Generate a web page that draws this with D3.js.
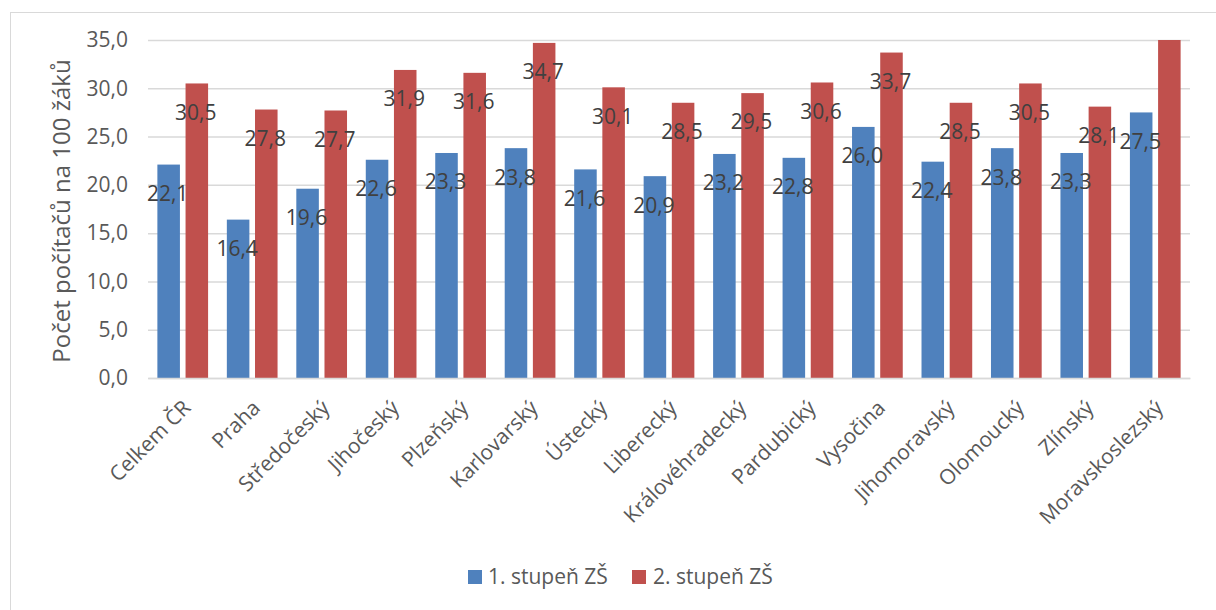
<!DOCTYPE html>
<html><head><meta charset="utf-8">
<script src="https://cdn.jsdelivr.net/npm/d3@7"></script>
<style>body{margin:0;background:#fff;}svg{display:block;}</style>
</head><body>
<script>
const categories = ["Celkem ČR","Praha","Středočeský","Jihočeský","Plzeňský","Karlovarský","Ústecký","Liberecký","Královéhradecký","Pardubický","Vysočina","Jihomoravský","Olomoucký","Zlínský","Moravskoslezský"];
const series1 = [22.1,16.4,19.6,22.6,23.3,23.8,21.6,20.9,23.2,22.8,26.0,22.4,23.8,23.3,27.5];
const series2 = [30.5,27.8,27.7,31.9,31.6,34.7,30.1,28.5,29.5,30.6,33.7,28.5,30.5,28.1,36.0];
const seriesNames = ["1. stupeň ZŠ","2. stupeň ZŠ"];
const yTicks = [0,5,10,15,20,25,30,35];
const colors = ["#4f81bd","#c0504d"];

const W=1216,H=610;
const m={left:148,right:1190,top:40,bottom:378};
const font="'Open Sans', sans-serif";
const txt="#595959";
const svg=d3.select("body").append("svg").attr("width",W).attr("height",H);
svg.append("rect").attr("x",10.5).attr("y",12.5).attr("width",W).attr("height",H).attr("fill","none").attr("stroke","#d9d9d9");

const x=d3.scaleBand().domain(categories).range([m.left,m.right]).paddingInner(0.27).paddingOuter(0.135);
const xs=d3.scaleBand().domain([0,1]).range([0,x.bandwidth()]).paddingInner(0.2);
const y=d3.scaleLinear().domain([0,35]).range([m.bottom,m.top]);

// gridlines
const yAxis=d3.axisLeft(y).tickValues(yTicks).tickSize(-(m.right-m.left)).tickFormat(d=>d3.format(".1f")(d).replace(".",","));
const ga=svg.append("g").attr("transform",`translate(${m.left},0)`).call(yAxis);
ga.select(".domain").remove();
ga.selectAll(".tick line").attr("stroke","#d9d9d9").attr("stroke-width",1.5);
ga.selectAll(".tick text").attr("x",-20).attr("fill",txt).style("font-family",font).style("font-size","21px");

// bars
svg.append("clipPath").attr("id","pc").append("rect").attr("x",m.left).attr("y",m.top).attr("width",m.right-m.left).attr("height",m.bottom-m.top);
const data=categories.map((c,i)=>({c,v:[series1[i],series2[i]]}));
const g=svg.append("g").attr("clip-path","url(#pc)");
data.forEach(d=>{
  d.v.forEach((v,j)=>{
    g.append("rect").attr("x",x(d.c)+xs(j)).attr("y",y(v)).attr("width",xs.bandwidth()).attr("height",y(0)-y(v)).attr("fill",colors[j]);
  });
});
// axis line
const xAxis=d3.axisBottom(x).tickSize(0).tickFormat("");
const gx=svg.append("g").attr("transform",`translate(0,${m.bottom})`).call(xAxis);
gx.select(".domain").attr("stroke","#d9d9d9").attr("stroke-width",1.5);

// labels
data.forEach(d=>{
  d.v.forEach((v,j)=>{
    if(v>35) return;
    svg.append("text").attr("x",x(d.c)+xs(j)+xs.bandwidth()/2-1).attr("y",y(v)+29).attr("dy","0.35em")
      .attr("text-anchor","middle").attr("fill","#404040").style("font-family",font).style("font-size","21px")
      .text(d3.format(".1f")(v).replace(".",","));
  });
});

// category labels
categories.forEach(c=>{
  const cx=x(c)+x.bandwidth()/2+4, cy=m.bottom+26;
  svg.append("text").attr("transform",`translate(${cx},${cy}) rotate(-45)`).attr("text-anchor","end").attr("dy","0.35em")
    .attr("fill",txt).style("font-family",font).style("font-size","21px").text(c);
});

// y title
svg.append("text").attr("transform",`translate(62,${(m.top+m.bottom)/2+2}) rotate(-90)`).attr("text-anchor","middle").attr("dy","0.35em")
  .attr("fill",txt).style("font-family",font).style("font-size","24px").text("Počet počítačů na 100 žáků");

// legend
const leg=[{x:468,tx:488},{x:632,tx:653}];
seriesNames.forEach((n,i)=>{
  svg.append("rect").attr("x",leg[i].x).attr("y",570).attr("width",14).attr("height",14).attr("fill",colors[i]);
  svg.append("text").attr("x",leg[i].tx).attr("y",577).attr("dy","0.35em").attr("fill",txt).style("font-family",font).style("font-size","21px").text(n);
});
</script>
</body></html>
